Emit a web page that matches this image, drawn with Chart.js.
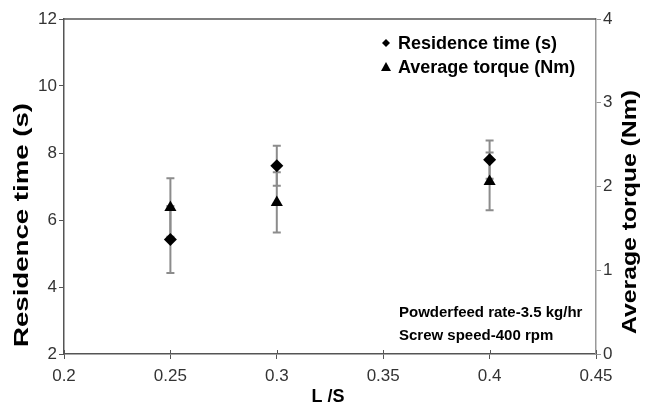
<!DOCTYPE html>
<html>
<head>
<meta charset="utf-8">
<script src="https://cdn.jsdelivr.net/npm/chart.js@4.4.1/dist/chart.umd.min.js"></script>
<style>
html,body{margin:0;padding:0;background:#fff;}
#wrap{width:649px;height:406px;position:relative;}
</style>
</head>
<body>
<div id="wrap"><canvas id="c" width="649" height="406"></canvas></div>
<script>
// ---- data ----
const lsRatio = [0.25, 0.3, 0.4];
const residenceTime = [5.42, 7.62, 7.80];
const residenceErr = [1.0, 0.6, 0.57];
const avgTorque = [1.75, 1.81, 2.06];
const torqueErr = [0.35, 0.36, 0.345];
const xTickValues = [0.2, 0.25, 0.3, 0.35, 0.4, 0.45];
const leftTickValues = [2, 4, 6, 8, 10, 12];
const rightTickValues = [0, 1, 2, 3, 4];
const seriesLabels = ['Residence time (s)', 'Average torque (Nm)'];
const xAxisTitle = 'L /S';
const annotationLines = ['Powderfeed rate-3.5 kg/hr', 'Screw speed-400 rpm'];

const FONT = "'Liberation Sans', Arial, Helvetica, sans-serif";

const errorBars = {
  id: 'errorBars',
  beforeDatasetsDraw(chart) {
    const ctx = chart.ctx;
    const xs = chart.scales.x;
    ctx.save();
    ctx.strokeStyle = '#8c8c8c';
    ctx.lineWidth = 2;
    chart.data.datasets.forEach(ds => {
      const ys = chart.scales[ds.yAxisID];
      ds.data.forEach((p, i) => {
        const e = ds.errors[i];
        const px = xs.getPixelForValue(p.x);
        const y1 = ys.getPixelForValue(p.y + e);
        const y2 = ys.getPixelForValue(p.y - e);
        ctx.beginPath();
        ctx.moveTo(px, y1); ctx.lineTo(px, y2);
        ctx.moveTo(px - 4, y1); ctx.lineTo(px + 4, y1);
        ctx.moveTo(px - 4, y2); ctx.lineTo(px + 4, y2);
        ctx.stroke();
      });
    });
    ctx.restore();
  }
};

function verticalTitle(ctx, text, cx, cy, len) {
  ctx.save();
  ctx.font = 'bold 20px ' + FONT;
  ctx.textAlign = 'center';
  ctx.textBaseline = 'middle';
  ctx.fillStyle = '#000';
  const w = ctx.measureText(text).width;
  ctx.translate(cx, cy);
  ctx.rotate(-Math.PI / 2);
  ctx.scale(len / w, 1);
  ctx.fillText(text, 0, 0);
  ctx.restore();
}

const frame = {
  id: 'frame',
  afterDraw(chart) {
    const ctx = chart.ctx;
    const a = chart.chartArea;
    ctx.save();
    // top border
    ctx.strokeStyle = '#555';
    ctx.lineWidth = 1.5;
    ctx.beginPath();
    ctx.moveTo(a.left, a.top); ctx.lineTo(a.right, a.top);
    ctx.stroke();
    // inward x ticks
    const xs = chart.scales.x;
    ctx.lineWidth = 1;
    ctx.beginPath();
    xTickValues.forEach(v => {
      const px = Math.round(xs.getPixelForValue(v)) + 0.5;
      ctx.moveTo(px, a.bottom); ctx.lineTo(px, a.bottom - 4);
    });
    ctx.stroke();
    // legend
    ctx.fillStyle = '#000';
    ctx.font = 'bold 18px ' + FONT;
    ctx.textBaseline = 'middle';
    ctx.textAlign = 'left';
    const lx = 386, ly = [43, 67];
    chart.data.datasets.forEach((ds, i) => {
      ctx.beginPath();
      if (ds.pointStyle === 'rectRot') {
        ctx.moveTo(lx, ly[i] - 4); ctx.lineTo(lx + 4, ly[i]); ctx.lineTo(lx, ly[i] + 4); ctx.lineTo(lx - 4, ly[i]);
      } else {
        ctx.moveTo(lx, ly[i] - 5); ctx.lineTo(lx + 5, ly[i] + 4); ctx.lineTo(lx - 5, ly[i] + 4);
      }
      ctx.closePath();
      ctx.fill();
      ctx.fillText(ds.label, 398, ly[i] + 1);
    });
    // annotation
    ctx.font = 'bold 15px ' + FONT;
    ctx.fillText(annotationLines[0], 399, 313);
    ctx.fillText(annotationLines[1], 399, 336);
    // x axis title
    ctx.font = 'bold 18px ' + FONT;
    ctx.textAlign = 'center';
    ctx.fillText(xAxisTitle, 328, 397);
    ctx.restore();
    // vertical axis titles
    verticalTitle(ctx, seriesLabels[0], 22, 225, 244);
    verticalTitle(ctx, seriesLabels[1], 630, 212, 244);
  }
};

new Chart(document.getElementById('c'), {
  type: 'scatter',
  data: {
    datasets: [
      {
        label: seriesLabels[0],
        data: lsRatio.map((x, i) => ({x: x, y: residenceTime[i]})),
        errors: residenceErr,
        yAxisID: 'y',
        pointStyle: 'rectRot',
        radius: 6.5,
        backgroundColor: '#000',
        borderColor: '#000',
        borderWidth: 0
      },
      {
        label: seriesLabels[1],
        data: lsRatio.map((x, i) => ({x: x, y: avgTorque[i]})),
        errors: torqueErr,
        yAxisID: 'y1',
        pointStyle: 'triangle',
        radius: 7,
        backgroundColor: '#000',
        borderColor: '#000',
        borderWidth: 0
      }
    ]
  },
  options: {
    responsive: false,
    animation: false,
    layout: {padding: {top: 19, left: 0, right: 0, bottom: 0}},
    plugins: {legend: {display: false}, tooltip: {enabled: false}},
    scales: {
      x: {
        type: 'linear', min: 0.2, max: 0.45,
        afterBuildTicks: s => { s.ticks = xTickValues.map(v => ({value: v})); },
        afterFit: s => { s.height = 52; },
        border: {color: '#555', width: 1.5},
        grid: {drawOnChartArea: false, tickLength: 5, color: '#555'},
        ticks: {color: '#333', font: {family: FONT, size: 17}, padding: 7,
                callback: v => String(v)},
        title: {display: false, text: xAxisTitle}
      },
      y: {
        position: 'left', min: 2, max: 12,
        afterBuildTicks: s => { s.ticks = leftTickValues.map(v => ({value: v})); },
        afterFit: s => { s.width = 64; },
        border: {color: '#555', width: 1.5},
        grid: {drawOnChartArea: false, tickLength: 5, color: '#555'},
        ticks: {color: '#333', font: {family: FONT, size: 17}, padding: 2},
        title: {display: false, text: seriesLabels[0]}
      },
      y1: {
        position: 'right', min: 0, max: 4,
        afterBuildTicks: s => { s.ticks = rightTickValues.map(v => ({value: v})); },
        afterFit: s => { s.width = 53; },
        border: {color: '#999', width: 1.5},
        grid: {drawOnChartArea: false, tickLength: 5, color: '#999'},
        ticks: {color: '#333', font: {family: FONT, size: 17}, padding: 2},
        title: {display: false, text: seriesLabels[1]}
      }
    }
  },
  plugins: [errorBars, frame]
});
</script>
</body>
</html>
